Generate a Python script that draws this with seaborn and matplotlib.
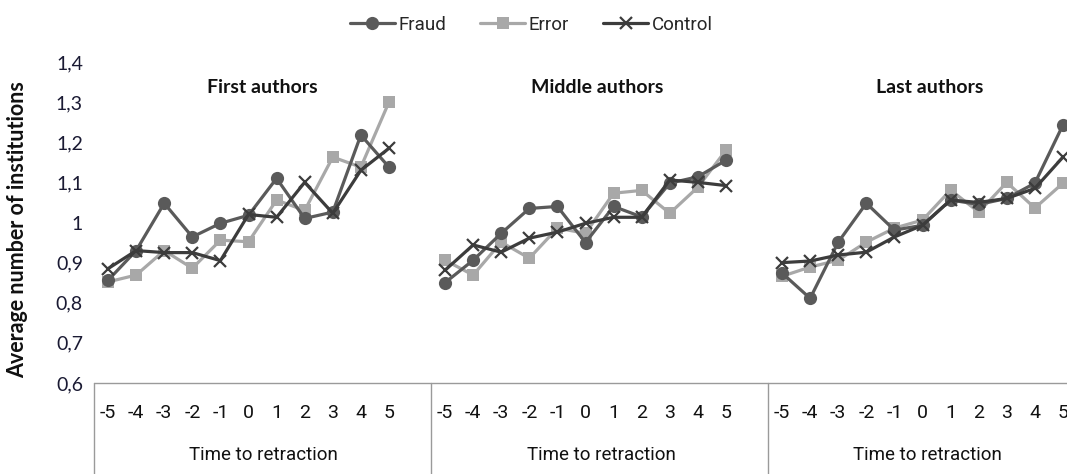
import matplotlib
matplotlib.use("Agg")
import matplotlib.pyplot as plt
from matplotlib.lines import Line2D
import seaborn as sns
import pandas as pd

# ---- data ----
times = [-5, -4, -3, -2, -1, 0, 1, 2, 3, 4, 5]
panels = ["First authors", "Middle authors", "Last authors"]
series_names = ["Fraud", "Error", "Control"]

first_fraud = [0.856, 0.93, 1.048, 0.964, 0.998, 1.018, 1.11, 1.01, 1.026, 1.218, 1.138]
first_error = [0.852, 0.869, 0.93, 0.886, 0.956, 0.952, 1.056, 1.03, 1.163, 1.138, 1.30]
first_control = [0.885, 0.93, 0.925, 0.925, 0.905, 1.02, 1.013, 1.10, 1.023, 1.13, 1.185]

middle_fraud = [0.85, 0.906, 0.973, 1.035, 1.04, 0.95, 1.04, 1.014, 1.098, 1.114, 1.155]
middle_error = [0.906, 0.869, 0.951, 0.911, 0.986, 0.973, 1.073, 1.08, 1.023, 1.088, 1.18]
middle_control = [0.881, 0.944, 0.926, 0.961, 0.976, 0.998, 1.013, 1.013, 1.106, 1.10, 1.092]

last_fraud = [0.874, 0.811, 0.951, 1.048, 0.981, 0.993, 1.056, 1.045, 1.06, 1.098, 1.243]
last_error = [0.866, 0.889, 0.906, 0.951, 0.986, 1.006, 1.081, 1.026, 1.10, 1.036, 1.098]
last_control = [0.90, 0.904, 0.919, 0.926, 0.964, 0.993, 1.056, 1.05, 1.06, 1.085, 1.163]

y_ticks = [0.6, 0.7, 0.8, 0.9, 1.0, 1.1, 1.2, 1.3, 1.4]
y_tick_labels = ["0,6", "0,7", "0,8", "0,9", "1", "1,1", "1,2", "1,3", "1,4"]
x_title = "Time to retraction"
y_title = "Average number of institutions"

values = {
    "First authors": {"Fraud": first_fraud, "Error": first_error, "Control": first_control},
    "Middle authors": {"Fraud": middle_fraud, "Error": middle_error, "Control": middle_control},
    "Last authors": {"Fraud": last_fraud, "Error": last_error, "Control": last_control},
}
rows = []
for p in panels:
    for s in series_names:
        for t, v in zip(times, values[p][s]):
            rows.append({"panel": p, "series": s, "time": t, "value": v})
df = pd.DataFrame(rows)

# ---- style ----
sns.set_theme(style="white")
narrow = ["Roboto", "DejaVu Sans"]
boldfam = ["Lato", "DejaVu Sans"]
plt.rcParams["font.family"] = narrow

styles = {
    "Error": dict(color="#a8a8a8", marker="s", markersize=9, mew=0),
    "Fraud": dict(color="#5a5a5a", marker="o", markersize=9.5, mew=0),
    "Control": dict(color="#3c3c3c", marker="x", markersize=9, mew=1.6),
}
draw_order = ["Error", "Fraud", "Control"]

W, H = 1067, 474
fig = plt.figure(figsize=(W / 100, H / 100), dpi=100)
ax_bottom = (H - 383) / H
ax_height = 321 / H
lefts_px = [94, 431, 768]
width_px = 309
title_x = [0.544, 0.537, 0.524]
xlab_x = [0.547, 0.553, 0.515]

axes = []
for i, p in enumerate(panels):
    ax = fig.add_axes([lefts_px[i] / W, ax_bottom, width_px / W, ax_height])
    axes.append(ax)
    sub = df[df["panel"] == p]
    for s in draw_order:
        st = styles[s]
        d = sub[sub["series"] == s]
        sns.lineplot(data=d, x="time", y="value", ax=ax, color=st["color"],
                     marker=st["marker"], markersize=st["markersize"],
                     markeredgewidth=st["mew"],
                     markeredgecolor=st["color"], linewidth=2.3, label=s,
                     estimator=None, sort=False)
    ax.set_xlim(-5.5, 5.5)
    ax.set_ylim(0.6, 1.4)
    ax.set_xticks(times)
    ax.set_xticklabels([str(t) for t in times], fontsize=14, color="#111111")
    ax.tick_params(axis="x", length=0, pad=15)
    ax.set_yticks(y_ticks)
    if i == 0:
        ax.set_yticklabels(y_tick_labels, fontsize=14, color="#1a1a33",
                           family=["Lato", "DejaVu Sans"])
        ax.tick_params(axis="y", length=0, pad=8)
    else:
        ax.set_yticklabels([])
        ax.tick_params(axis="y", length=0)
    ax.set_xlabel("")
    ax.set_ylabel("")
    for sp in ax.spines.values():
        sp.set_visible(False)
    ax.set_facecolor("none")
    ax.text(title_x[i], 0.922, p, transform=ax.transAxes, ha="center", va="center",
            fontsize=14, fontweight="bold", family=boldfam, color="#111111")
    ax.text(xlab_x[i], -0.224, x_title, transform=ax.transAxes, ha="center",
            va="center", fontsize=13.5, color="#111111")
    if ax.get_legend() is not None:
        handles, labels = ax.get_legend_handles_labels()
        ax.get_legend().remove()
        if i == 0:
            leg_handles = dict(zip(labels, handles))

# bottom box lines
line_col = "#9a9a9a"
fig.add_artist(Line2D([lefts_px[0] / W, 1.0], [ax_bottom, ax_bottom],
                      transform=fig.transFigure, color=line_col, lw=1.0))
for lp in lefts_px:
    fig.add_artist(Line2D([lp / W, lp / W], [ax_bottom, 0.0],
                          transform=fig.transFigure, color=line_col, lw=1.0))

# y axis title
fig.text(18 / W, 1 - 230 / H, y_title, rotation=90, ha="center", va="center",
         fontsize=15.5, fontweight="bold", family=boldfam, color="#111111")

# legend
fig.legend([leg_handles[s] for s in series_names], series_names,
           loc="center", bbox_to_anchor=(0.498, 1 - 25 / H), ncol=3,
           frameon=False, fontsize=13.5, handlelength=2.4, columnspacing=1.8,
           handletextpad=0.2)

fig.savefig("out.png", dpi=100)
